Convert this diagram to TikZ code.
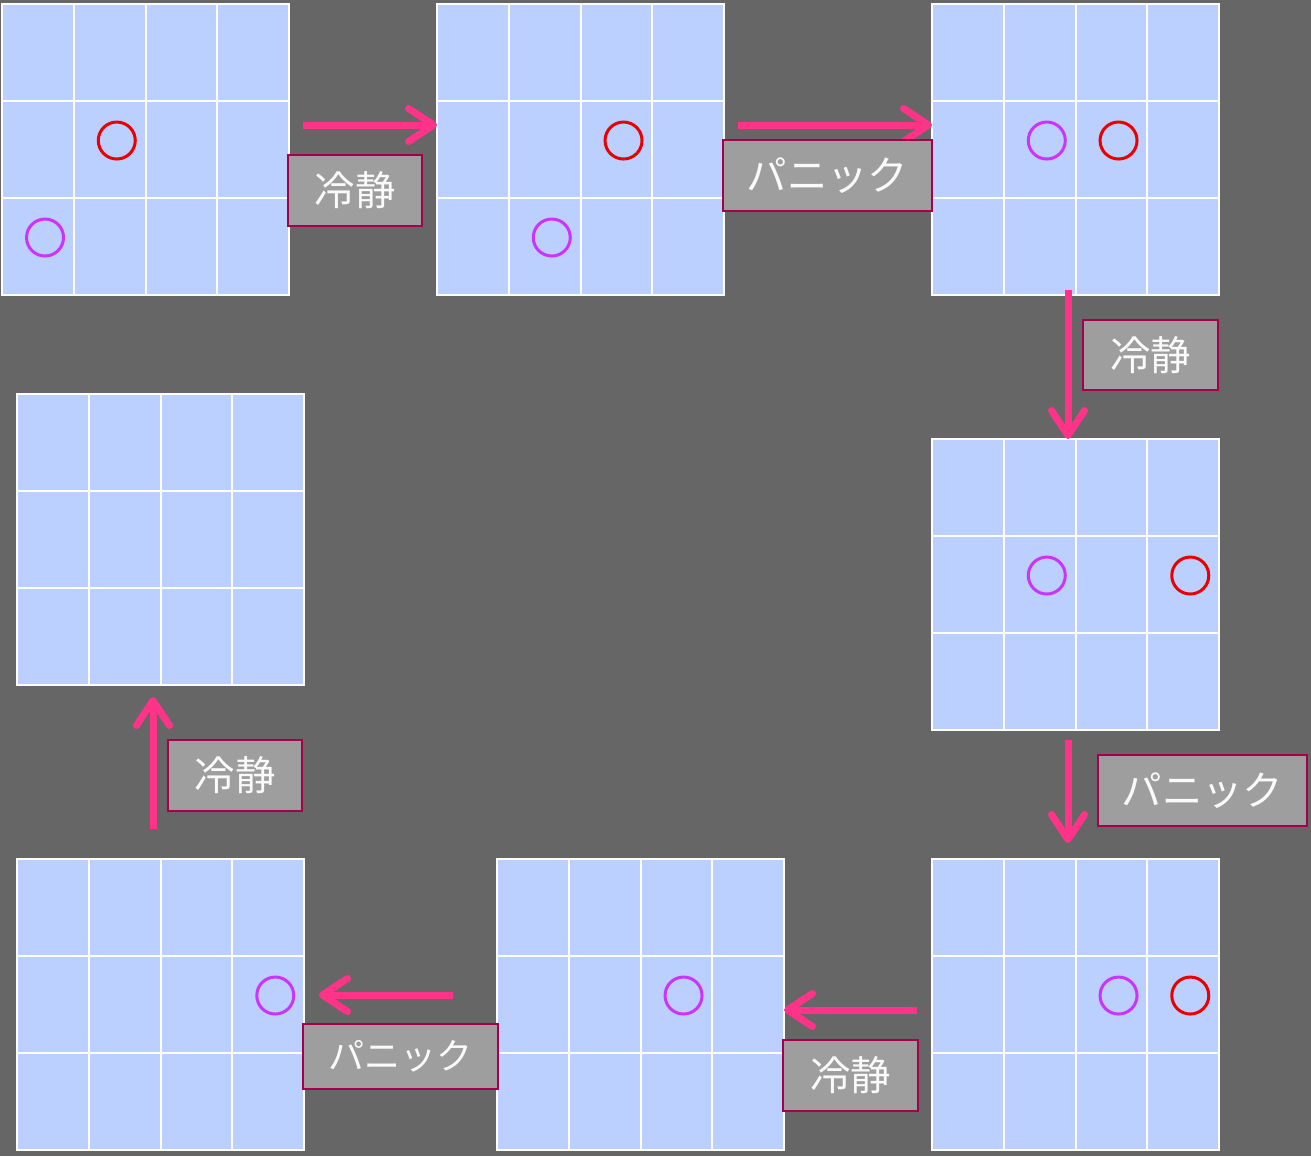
\documentclass[tikz,border=0pt]{standalone}
\usepackage{fontspec}
\newfontfamily\jpfont{Noto Sans CJK JP}
\usepackage{tikz}
\usetikzlibrary{arrows.meta, calc, positioning}
\definecolor{bgdark}{RGB}{102,102,102}
\definecolor{cellblue}{RGB}{187,208,255}
\definecolor{arrowpink}{RGB}{255,51,136}
\definecolor{boxgray}{RGB}{158,158,158}
\definecolor{boxedge}{RGB}{165,0,75}
\definecolor{ringred}{RGB}{235,0,0}
\definecolor{ringviolet}{RGB}{204,51,255}

\begin{document}
\begin{tikzpicture}[
  x=0.02cm, y=-0.02cm,
  board/.style={rectangle, draw=white, fill=cellblue, line width=0.04cm, minimum width=5.74cm, minimum height=5.82cm, inner sep=0pt, outer sep=0pt},
  gridline/.style={draw=white, line width=0.04cm},
  redring/.style={circle, draw=ringred, line width=0.06cm, minimum size=0.74cm, inner sep=0pt},
  violetring/.style={circle, draw=ringviolet, line width=0.06cm, minimum size=0.74cm, inner sep=0pt},
  arr/.style={-{Straight Barb[length=0.5cm, width=0.66cm, round]}, line width=0.14cm, arrowpink},
  state/.style={rectangle, draw=boxedge, fill=boxgray, line width=0.04cm, text=white!96!gray, font=\jpfont\fontsize{23}{26}\selectfont, minimum height=1.42cm, inner sep=0pt},
  calm/.style={state, minimum width=2.68cm},
  panic/.style={state, minimum width=4.18cm}
]
  \fill[bgdark] (0,0) rectangle (1311,1156);
  \useasboundingbox (0,0) rectangle (1311,1156);

  % the eight boards
  \foreach \n/\gx/\gy in {g1/2/4, g2/437/4, g3/932/4, g4/932/439, g5/932/859, g6/497/859, g7/17/859, g8/17/394} {
    \node[board] (\n) at (\gx+143.5,\gy+145.5) {};
    \foreach \c in {1,2,3}
      \draw[gridline] ($(\n.north west)+(\c*71.75,0)$) -- ($(\n.south west)+(\c*71.75,0)$);
    \foreach \r in {1,2}
      \draw[gridline] ($(\n.north west)+(0,\r*97)$) -- ($(\n.north east)+(0,\r*97)$);
  }

  % people on the boards
  \node[redring] (r1) at ($(g1.north west)+(114.75,136.5)$) {};
  \node[violetring] (v1) at ($(g1.north west)+(43,233.5)$) {};
  \node[redring] (r2) at ($(g2.north west)+(186.5,136.5)$) {};
  \node[violetring] (v2) at ($(g2.north west)+(114.75,233.5)$) {};
  \node[violetring] (v3) at ($(g3.north west)+(114.75,136.5)$) {};
  \node[redring] (r3) at ($(g3.north west)+(186.5,136.5)$) {};
  \node[violetring] (v4) at ($(g4.north west)+(114.75,136.5)$) {};
  \node[redring] (r4) at ($(g4.north west)+(258.25,136.5)$) {};
  \node[violetring] (v5) at ($(g5.north west)+(186.5,136.5)$) {};
  \node[redring] (r5) at ($(g5.north west)+(258.25,136.5)$) {};
  \node[violetring] (v6) at ($(g6.north west)+(186.5,136.5)$) {};
  \node[violetring] (v7) at ($(g7.north west)+(258.25,136.5)$) {};

  % arrows
  \coordinate (t1) at (303,125);
  \coordinate (t2) at (738,125);
  \coordinate (t3) at (1068,290);
  \coordinate (t4) at (1068,740);
  \coordinate (t5) at (917,1010);
  \coordinate (t6) at (453,995);
  \coordinate (t7) at (153,829);
  \draw[arr] (t1) -- (t1 -| g2.west);
  \draw[arr] (t2) -- (t2 -| g3.west);
  \draw[arr] (t3) -- (t3 |- g4.north);
  \draw[arr, shorten >=0.32cm] (t4) -- (t4 |- g5.north);
  \draw[arr] (t5) -- (t5 -| g6.east);
  \draw[arr, shorten >=0.3cm] (t6) -- (t6 -| g7.east);
  \draw[arr, shorten >=0.24cm] (t7) -- (t7 |- g8.south);

  % labels
  \node[calm] (l1) at (355,190.5) {冷静};
  \node[panic] (l2) at (827.5,175.5) {パニック};
  \node[calm, minimum width=2.7cm, minimum height=1.4cm] (l3) at (1150.5,355) {冷静};
  \node[panic] (l4) at (1202.5,790.5) {パニック};
  \node[calm, minimum width=2.7cm] (l5) at (850.5,1075.5) {冷静};
  \node[panic, minimum width=3.9cm, minimum height=1.3cm, font=\jpfont\fontsize{20.5}{24}\selectfont] (l6) at (400.5,1056.5) {パニック};
  \node[calm] (l7) at (235,775.5) {冷静};
\end{tikzpicture}
\end{document}
